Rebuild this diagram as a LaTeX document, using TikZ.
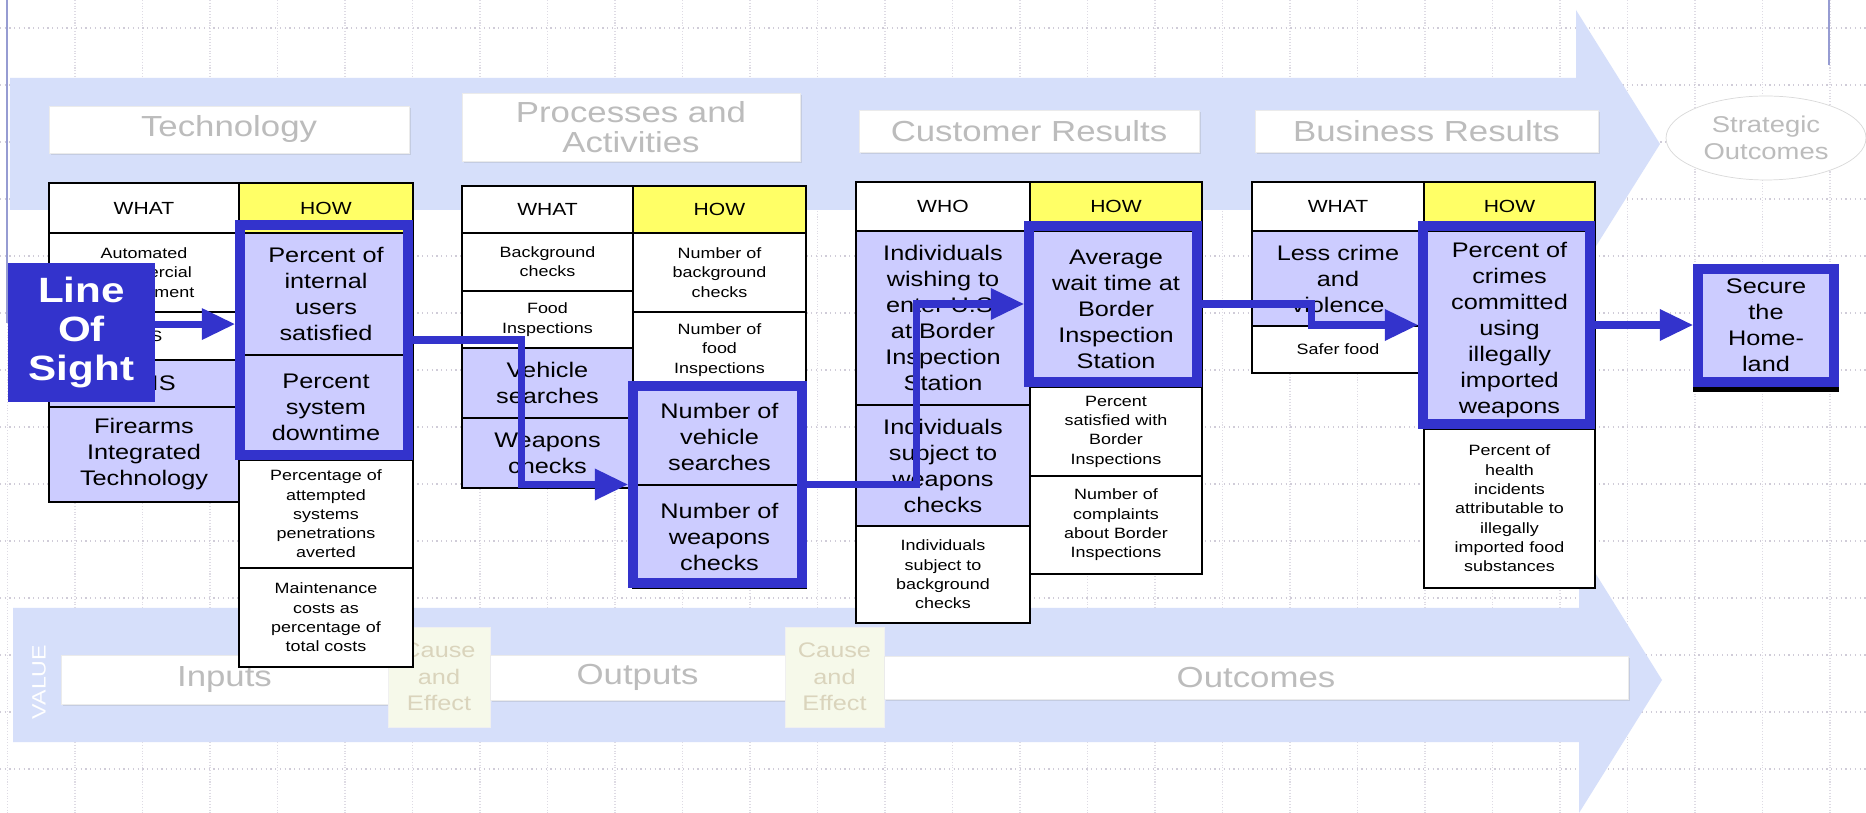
\documentclass[tikz,border=0pt]{standalone}
\usepackage{fontspec}
\setmainfont{Liberation Sans}[FakeStretch=1.2]
\usetikzlibrary{arrows.meta,shapes.geometric,shadows}

\definecolor{losblue}{RGB}{51,51,204}
\definecolor{lav}{RGB}{204,204,255}
\definecolor{howyellow}{RGB}{255,255,102}
\definecolor{band}{RGB}{214,223,250}
\definecolor{labgray}{RGB}{188,188,188}
\definecolor{causefill}{RGB}{246,249,234}
\definecolor{causetext}{RGB}{218,212,188}
\definecolor{gridc}{RGB}{208,204,216}
\definecolor{edgeline}{RGB}{150,156,210}

\begin{document}
\begin{tikzpicture}[x=0.02cm, y=-0.02cm,
    box/.style n args={4}{at={({(#1+#3)/2},{(#2+#4)/2})},
      minimum width={(#3-#1)*0.02cm}, minimum height={(#4-#2)*0.02cm}},
    cell/.style={draw, line width=1pt, fill=white, inner sep=0pt, align=center},
    lavcell/.style={cell, fill=lav},
    howcell/.style={cell, fill=howyellow},
    hdr/.style={font=\fontsize{10}{12}\selectfont},
    small/.style={font=\fontsize{8.5}{11}\selectfont},
    big/.style={font=\fontsize{12}{14.8}\selectfont},
    hl/.style={draw=losblue, line width=5.5pt, inner sep=0pt},
    flow/.style={draw=losblue, line width=4pt, -{Triangle[length=19pt,width=17pt]}},
    head/.style={fill=white, draw=black!8, inner sep=0pt, align=center, text=labgray,
      font=\fontsize{16.5}{17}\selectfont,
      drop shadow={shadow xshift=1.2pt, shadow yshift=-1.2pt, opacity=0.2}},
    cause/.style={fill=causefill, draw=black!6, inner sep=0pt, align=center, text=causetext,
      font=\fontsize{12}{15}\selectfont}]

  % Page
  \fill[white] (0,0) rectangle (1866,813);
  \useasboundingbox (0,0) rectangle (1866,813);

  % Grid
  \foreach \gx in {0,...,27}
    \draw[gridc!70, line width=0.6pt, densely dotted] ({7.5+67.5*\gx},0) -- ({7.5+67.5*\gx},813);
  \foreach \gy in {0,...,13}
    \draw[gridc, line width=0.7pt, dotted] (0,{28+57*\gy}) -- (1866,{28+57*\gy});
  \draw[edgeline, line width=1.5pt] (7,0) -- (7,323);
  \draw[edgeline, line width=1.2pt] (1829,0) -- (1829,65);

  % Big arrows
  \fill[band] (10,78) -- (1576,78) -- (1576,10) -- (1660,144) -- (1576,278)
    -- (1576,210) -- (10,210) -- cycle;
  \fill[band] (13,608) -- (1579,608) -- (1579,547) -- (1662,680) -- (1579,813)
    -- (1579,742) -- (13,742) -- cycle;

  % Headings
  \node[head, box={49}{106}{409}{153}] (htech) {Technology};
  \node[head, box={462}{93}{800}{161}] (hproc) {Processes and\\Activities};
  \node[head, box={859}{110}{1199}{152}] (hcust) {Customer Results};
  \node[head, box={1255}{110}{1598}{152}] (hbus) {Business Results};
  \node[ellipse, draw=black!15, fill=white, text=labgray, align=center,
    font=\fontsize{13}{15}\selectfont, minimum width=4cm, minimum height=1.68cm]
    (hstrat) at (1766,138) {Strategic\\Outcomes};

  % Value chain
  \node[rotate=90, text=white, font=\fontsize{11}{12}\selectfont] (value) at (39,682) {VALUE};
  \node[head, box={61}{655}{388}{704}] (inputs) {Inputs};
  \node[cause, box={388}{627}{490}{727}] (cause1) {Cause\\and\\Effect};
  \node[head, box={490}{655}{785}{700}] (outputs) {Outputs};
  \node[cause, box={785}{627}{884}{727}] (cause2) {Cause\\and\\Effect};
  \node[head, box={884}{656}{1628}{699}] (outcomes) {Outcomes};

  % Technology
  \node[cell, hdr, box={49}{183}{239}{233}] (twhat) {WHAT};
  \node[howcell, hdr, box={239}{183}{413}{233}] (thow) {HOW};
  \node[cell, small, box={49}{233}{239}{312}] (tw1) {Automated\\Commercial\\Environment};
  \node[cell, small, box={49}{312}{239}{360}] (tw2) {ACS};
  \node[lavcell, big, box={49}{360}{239}{407}] (tw3) {IAFIS};
  \node[lavcell, big, box={49}{407}{239}{502}] (tw4) {Firearms\\Integrated\\Technology};
  \node[lavcell, big, box={239}{233}{413}{355}] (th1) {Percent of\\internal\\users\\satisfied};
  \node[lavcell, big, box={239}{355}{413}{460}] (th2) {Percent\\system\\downtime};
  \node[cell, small, box={239}{460}{413}{568}] (th3) {Percentage of\\attempted\\systems\\penetrations\\averted};
  \node[cell, small, box={239}{568}{413}{667}] (th4) {Maintenance\\costs as\\percentage of\\total costs};

  % Processes and activities
  \node[cell, hdr, box={462}{186}{633}{233}] (pwhat) {WHAT};
  \node[howcell, hdr, box={633}{186}{806}{233}] (phow) {HOW};
  \node[cell, small, box={462}{233}{633}{291}] (pw1) {Background\\checks};
  \node[cell, small, box={462}{291}{633}{348}] (pw2) {Food\\Inspections};
  \node[lavcell, big, box={462}{348}{633}{418}] (pw3) {Vehicle\\searches};
  \node[lavcell, big, box={462}{418}{633}{488}] (pw4) {Weapons\\checks};
  \node[cell, small, box={633}{233}{806}{312}] (ph1) {Number of\\background\\checks};
  \node[cell, small, box={633}{312}{806}{388}] (ph2) {Number of\\food\\Inspections};
  \node[lavcell, big, box={633}{388}{806}{485}] (ph3) {Number of\\vehicle\\searches};
  \node[lavcell, big, box={633}{485}{806}{588}] (ph4) {Number of\\weapons\\checks};

  % Customer results
  \node[cell, hdr, box={856}{182}{1030}{231}] (cwho) {WHO};
  \node[howcell, hdr, box={1030}{182}{1202}{231}] (chow) {HOW};
  \node[lavcell, big, box={856}{231}{1030}{405}] (cw1) {Individuals\\wishing to\\enter U.S.\\at Border\\Inspection\\Station};
  \node[lavcell, big, box={856}{405}{1030}{526}] (cw2) {Individuals\\subject to\\weapons\\checks};
  \node[cell, small, box={856}{526}{1030}{623}] (cw3) {Individuals\\subject to\\background\\checks};
  \node[lavcell, big, box={1030}{231}{1202}{387}] (ch1) {Average\\wait time at\\Border\\Inspection\\Station};
  \node[cell, small, box={1030}{387}{1202}{476}] (ch2) {Percent\\satisfied with\\Border\\Inspections};
  \node[cell, small, box={1030}{476}{1202}{574}] (ch3) {Number of\\complaints\\about Border\\Inspections};

  % Business results
  \node[cell, hdr, box={1252}{182}{1424}{231}] (bwhat) {WHAT};
  \node[howcell, hdr, box={1424}{182}{1595}{231}] (bhow) {HOW};
  \node[lavcell, big, box={1252}{231}{1424}{326}] (bw1) {Less crime\\and\\violence};
  \node[cell, small, box={1252}{326}{1424}{373}] (bw2) {Safer food};
  \node[lavcell, big, box={1424}{231}{1595}{429}] (bh1) {Percent of\\crimes\\committed\\using\\illegally\\imported\\weapons};
  \node[cell, small, box={1424}{429}{1595}{588}] (bh2) {Percent of\\health\\incidents\\attributable to\\illegally\\imported food\\substances};

  % Highlighted measures
  \node[hl, box={240}{225}{408}{455}] (techhow) {};
  \node[hl, box={633}{386}{802}{583}] (prochow) {};
  \node[hl, box={1029}{226}{1197}{382}] (custhow) {};
  \node[hl, box={1423}{226}{1590}{424}] (bushow) {};
  \node[hl, fill=lav, big, align=center, box={1698}{269}{1834}{382}] (secure) {Secure\\the\\Home-\\land};
  \draw[line width=2.8pt] ([yshift=-1.4pt]secure.south west) -- ([yshift=-1.4pt]secure.south east);

  % Line of sight
  \node[fill=losblue, text=white, font=\bfseries\fontsize{20}{22}\selectfont, align=center,
    inner sep=0pt, box={8}{263}{155}{402}] (los) {Line\\Of\\Sight};

  \draw[flow] ([yshift=4.8pt]los.east) -- ([yshift=4.8pt]los.east -| techhow.west);
  \draw[flow] (techhow.east) -- ++(109,0) |- (prochow.west);
  \draw[flow] (prochow.east) -- ++(110,0) |- (custhow.west);
  \draw[flow] (custhow.east) -- ++(110,0) |- (bushow.west);
  \draw[flow] (bushow.east) -- (bushow.east -| secure.west);
\end{tikzpicture}
\end{document}
